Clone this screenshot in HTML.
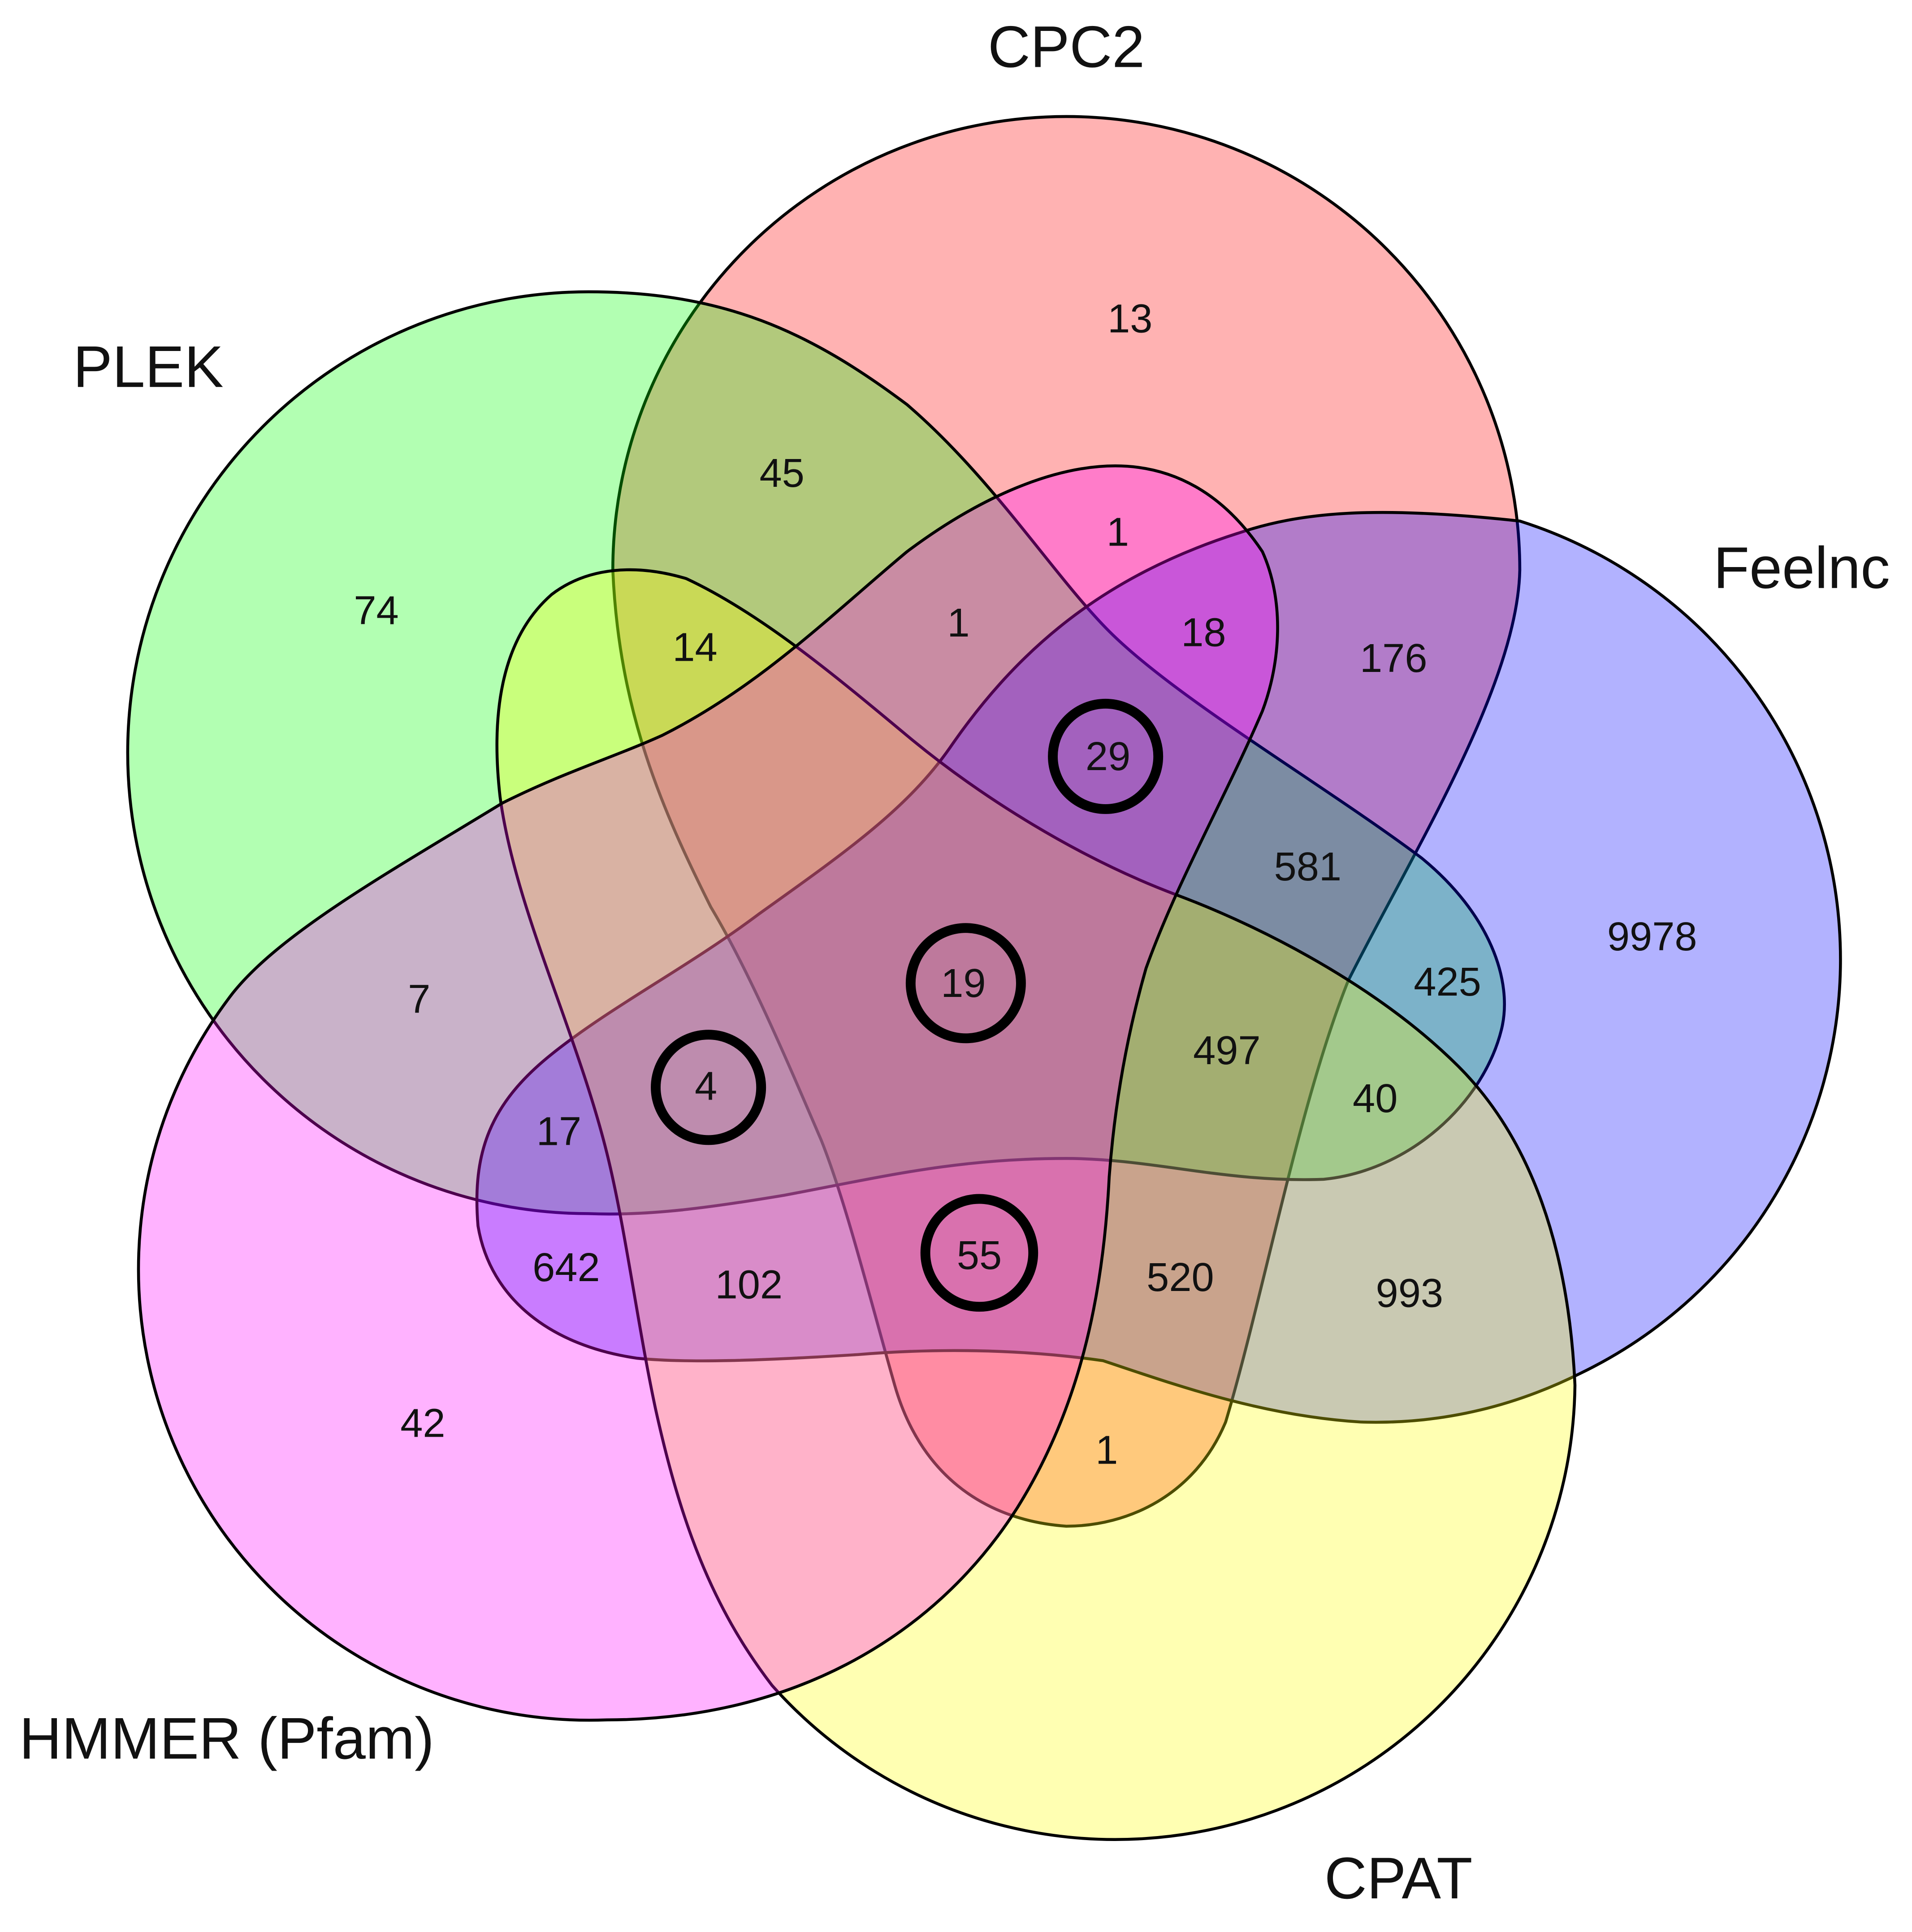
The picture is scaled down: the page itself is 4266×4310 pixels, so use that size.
<!DOCTYPE html>
<html><head><meta charset="utf-8"><style>
html,body{margin:0;padding:0;background:#fff;}
svg{display:block;}
text{font-family:"Liberation Sans",Arial,sans-serif;fill:#111;text-anchor:middle;dominant-baseline:central;}
.n{font-size:33px;}
.l{font-size:48px;}
</style></head><body>
<svg width="4266" height="4310" viewBox="0 0 1560 1576" xmlns="http://www.w3.org/2000/svg">
<rect width="1560" height="1576" fill="#fff"/>
<g stroke="#000" stroke-width="2.4" fill-opacity="0.3">
<!-- CPC2 red -->
<path fill="#ff0000" d="M500,465 A370,370 0 0 1 1240,465 C1238,560 1150,700 1100,800 C1060,900 1030,1060 1000,1160 C975,1220 920,1245 870,1245 C800,1240 750,1200 730,1130 C710,1060 690,980 670,930 C640,860 610,790 580,740 C540,660 505,580 500,465 Z"/>
<!-- PLEK green -->
<path fill="#00ff00" d="M480,238 C590,238 660,270 740,330 C810,390 860,470 905,515 C960,570 1080,640 1160,700 C1215,745 1235,800 1225,840 C1210,900 1150,955 1080,962 C1000,965 940,945 870,945 C780,945 720,960 640,975 C580,985 530,992 480,990 A375,375 0 0 1 480,238 Z"/>
<!-- Feelnc blue -->
<path fill="#0000ff" d="M1010,435 C1060,418 1120,412 1240,425 A375,375 0 0 1 1290,1120 C1230,1150 1170,1162 1110,1160 C1030,1155 960,1130 900,1110 C830,1100 760,1100 700,1105 C620,1110 560,1112 520,1108 C450,1098 400,1060 390,1000 C385,940 400,900 450,860 C500,820 560,790 620,745 C690,695 740,660 775,610 C830,530 900,470 1010,435 Z"/>
<!-- CPAT yellow -->
<path fill="#ffff00" d="M1285,1130 A375,375 0 0 1 630,1375 C580,1310 555,1240 535,1150 C520,1080 510,1000 495,940 C470,840 420,740 408,650 C400,580 410,520 450,485 C480,462 520,460 560,472 C620,500 680,550 740,600 C800,650 880,700 960,730 C1040,760 1130,810 1190,870 C1250,930 1280,1020 1285,1130 Z"/>
<!-- HMMER magenta -->
<path fill="#ff00ff" d="M830,1230 C760,1340 640,1403 495,1403 A368,368 0 0 1 190,810 C230,760 320,710 410,655 C460,630 500,618 540,600 C620,560 680,500 740,450 C800,405 860,380 910,380 C960,380 1000,405 1030,450 C1048,490 1045,540 1030,580 C1000,650 960,720 935,790 C915,860 908,920 905,960 C900,1060 880,1150 830,1230 Z"/>
</g>
<g fill="none" stroke="#000" stroke-width="8">
<circle cx="902" cy="617" r="43"/>
<circle cx="788" cy="802" r="45"/>
<circle cx="578" cy="887" r="43"/>
<circle cx="799" cy="1022" r="44"/>
</g>
<g class="n">
<text x="922" y="260">13</text>
<text x="638" y="386">45</text>
<text x="307" y="498">74</text>
<text x="912" y="434">1</text>
<text x="782" y="508">1</text>
<text x="567" y="528">14</text>
<text x="982" y="516">18</text>
<text x="1137" y="537">176</text>
<text x="904" y="617">29</text>
<text x="1067" y="707">581</text>
<text x="1348" y="764">9978</text>
<text x="1181" y="801">425</text>
<text x="786" y="802">19</text>
<text x="342" y="815">7</text>
<text x="1001" y="857">497</text>
<text x="576" y="886">4</text>
<text x="1122" y="896">40</text>
<text x="456" y="923">17</text>
<text x="799" y="1024">55</text>
<text x="462" y="1034">642</text>
<text x="611" y="1048">102</text>
<text x="963" y="1042">520</text>
<text x="1150" y="1055">993</text>
<text x="345" y="1161">42</text>
<text x="903" y="1183">1</text>
</g>
<g class="l">
<text x="870" y="38">CPC2</text>
<text x="121" y="299">PLEK</text>
<text x="1470" y="463">Feelnc</text>
<text x="185" y="1418">HMMER (Pfam)</text>
<text x="1141" y="1532">CPAT</text>
</g>
</svg>
</body></html>
